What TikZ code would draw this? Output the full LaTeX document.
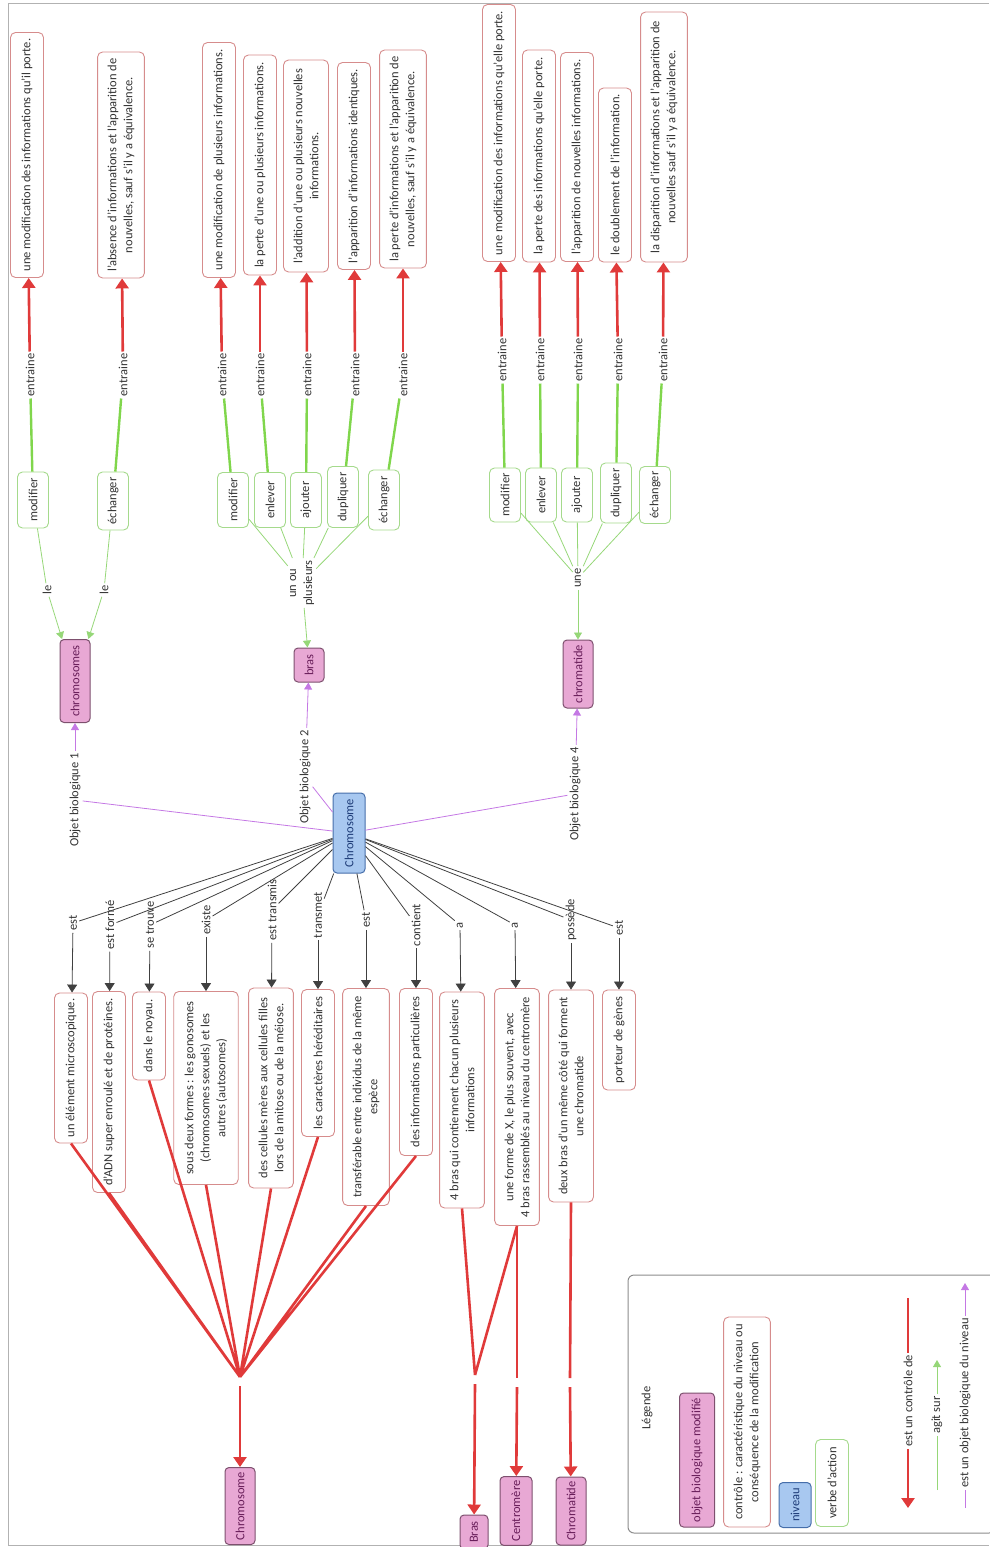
\documentclass[tikz,border=0pt]{standalone}
\usepackage{fontspec}
\setmainfont{Carlito}
\usepackage{tikz}
\usetikzlibrary{arrows.meta,calc}

\definecolor{ctlred}{RGB}{224,58,58}
\definecolor{ctlline}{RGB}{214,140,140}
\definecolor{verbline}{RGB}{165,218,140}
\definecolor{agitgreen}{RGB}{128,214,76}
\definecolor{agitlight}{RGB}{150,215,120}
\definecolor{objfill}{RGB}{232,168,212}
\definecolor{objline}{RGB}{125,80,110}
\definecolor{objtext}{RGB}{105,30,90}
\definecolor{nivfill}{RGB}{168,200,240}
\definecolor{nivline}{RGB}{70,110,170}
\definecolor{nivtext}{RGB}{30,60,120}
\definecolor{nivviolet}{RGB}{196,120,228}

\tikzset{
  txt/.style     = {rotate=90, align=center, font=\fontsize{12.5}{16}\selectfont,
                    text=black!80},
  ctlbox/.style  = {txt, draw=ctlline, fill=white, rounded corners=5pt,
                    line width=0.9pt, inner xsep=5pt, inner ysep=10pt,
                    minimum height=33pt},
  verbbox/.style = {txt, draw=verbline, fill=white, rounded corners=5pt,
                    line width=0.9pt, inner sep=5pt, minimum height=31pt},
  objbox/.style  = {txt, draw=objline, fill=objfill, text=objtext,
                    rounded corners=4pt, line width=1pt, inner sep=4pt,
                    minimum height=30pt},
  nivbox/.style  = {txt, draw=nivline, fill=nivfill, text=nivtext,
                    rounded corners=4pt, line width=1pt, inner sep=4pt,
                    minimum height=32pt},
  lien/.style    = {txt, inner sep=2pt},
  ar/.style      = {draw=ctlred, line width=2.6pt,
                    -{Triangle[length=10pt,width=13pt]}},
  arl/.style     = {draw=ctlred, line width=2.6pt},
  agit/.style    = {draw=agitgreen, line width=2.4pt},
  agitf/.style   = {draw=agitlight, line width=0.8pt},
  agitar/.style  = {agitf, -{Triangle[length=7pt,width=8pt]}},
  objl/.style    = {draw=nivviolet, line width=0.8pt},
  objar/.style   = {objl, -{Triangle[length=7pt,width=8pt]}},
  rel/.style     = {draw=black!75, line width=0.8pt},
  relar/.style   = {rel, -{Triangle[length=8pt,width=10pt]}},
}

\begin{document}
\begin{tikzpicture}[x=1pt, y=-1pt]
  \useasboundingbox (0,0) rectangle (989,1547);
  \draw[black!30, line width=0.8pt] (989,3) -- (8,3) -- (8,1545) -- (989,1545);

  % --- niveau ---
  \node[nivbox, minimum width=80pt] (chromo) at (349,833) {Chromosome};

  % --- objets biologiques ---
  \node[objbox, minimum width=83pt] (chromos) at (75,681) {chromosomes};
  \node[objbox, minimum width=34pt] (bras) at (309,665) {bras};
  \node[objbox, minimum width=68pt] (chromat) at (578,674) {chromatide};

  \node[lien] (ob1) at (75,800) {Objet biologique 1};
  \node[lien] (ob2) at (305,777) {Objet biologique 2};
  \node[lien] (ob4) at (575,794) {Objet biologique 4};
  \draw[objl] (chromo) -- (ob1);
  \draw[objl] (chromo) -- (ob2);
  \draw[objl] (chromo) -- (ob4);
  \draw[objar] (ob1) -- (chromos);
  \draw[objar] (ob2) -- (bras);
  \draw[objar] (ob4) -- (chromat);

  % --- objet 1 : chromosomes ---
  \node[verbbox, minimum width=56pt] (v11) at (33,500) {modifier};
  \node[verbbox, minimum width=58pt] (v12) at (113,501) {échanger};
  \node[lien] (le1) at (47,590) {le};
  \node[lien] (le2) at (104,590) {le};
  \node[lien] (e11) at (30,375) {entraine};
  \node[lien] (e12) at (123,375) {entraine};
  \node[ctlbox, minimum width=245pt] (c11) at (27,155)
       {une modification des informations qu'il porte.};
  \node[ctlbox, minimum width=226pt] (c12) at (121,165)
       {l'absence d'informations et l'apparition de\\nouvelles, sauf s'il y a équivalence.};
  \draw[agitf] (v11) -- (le1);
  \draw[agitf] (v12) -- (le2);
  \draw[agitar] (le1) -- (chromos);
  \draw[agitar] (le2) -- (chromos);
  \draw[agit] (v11) -- (e11);
  \draw[agit] (v12) -- (e12);
  \draw[ar] (e11) -- (c11);
  \draw[ar] (e12) -- (c12);

  % --- objet 2 : bras ---
  \node[verbbox, minimum width=55pt] (v21) at (233,500) {modifier};
  \node[verbbox, minimum width=55pt] (v22) at (270,500) {enlever};
  \node[verbbox, minimum width=55pt] (v23) at (306,500) {ajouter};
  \node[verbbox, minimum width=61pt] (v24) at (343,497) {dupliquer};
  \node[verbbox, minimum width=60pt] (v25) at (384,500) {échanger};
  \node[lien] (unou) at (302,583) {un ou\\plusieurs};
  \node[lien] (e21) at (222,375) {entraine};
  \node[lien] (e22) at (260,375) {entraine};
  \node[lien] (e23) at (307,375) {entraine};
  \node[lien] (e24) at (355,375) {entraine};
  \node[lien] (e25) at (403,375) {entraine};
  \node[ctlbox, minimum width=235pt] (c21) at (219,160)
       {une modification de plusieurs informations.};
  \node[ctlbox, minimum width=220pt] (c22) at (260,165)
       {la perte d'une ou plusieurs informations.};
  \node[ctlbox, minimum width=212pt] (c23) at (306,166)
       {l'addition d'une ou plusieurs nouvelles\\informations.};
  \node[ctlbox, minimum width=207pt] (c24) at (354,166)
       {l'apparition d'informations identiques.};
  \node[ctlbox, minimum width=218pt] (c25) at (403,159)
       {la perte d'informations et l'apparition de\\nouvelles, sauf s'il y a équivalence.};
  \draw[agitf] (v21) -- (unou);
  \draw[agitf] (v22) -- (unou);
  \draw[agitf] (v23) -- (unou);
  \draw[agitf] (v24) -- (unou);
  \draw[agitf] (v25) -- (unou);
  \draw[agitar] (unou) -- (bras);
  \draw[agit] (v21) -- (e21);
  \draw[agit] (v22) -- (e22);
  \draw[agit] (v23) -- (e23);
  \draw[agit] (v24) -- (e24);
  \draw[agit] (v25) -- (e25);
  \draw[ar] (e21) -- (c21);
  \draw[ar] (e22) -- (c22);
  \draw[ar] (e23) -- (c23);
  \draw[ar] (e24) -- (c24);
  \draw[ar] (e25) -- (c25);

  % --- objet 4 : chromatide ---
  \node[verbbox, minimum width=54pt] (v41) at (505,495) {modifier};
  \node[verbbox, minimum width=54pt] (v42) at (541,495) {enlever};
  \node[verbbox, minimum width=54pt] (v43) at (577,495) {ajouter};
  \node[verbbox, minimum width=60pt] (v44) at (616,493) {dupliquer};
  \node[verbbox, minimum width=56pt] (v45) at (655,495) {échanger};
  \node[lien] (une) at (578,578) {une};
  \node[lien] (e41) at (502,360) {entraine};
  \node[lien] (e42) at (540,360) {entraine};
  \node[lien] (e43) at (578,360) {entraine};
  \node[lien] (e44) at (618,360) {entraine};
  \node[lien] (e45) at (663,360) {entraine};
  \node[ctlbox, minimum width=257pt] (c41) at (499,133)
       {une modification des informations qu'elle porte.};
  \node[ctlbox, minimum width=212pt] (c42) at (539,156)
       {la perte des informations qu'elle porte.};
  \node[ctlbox, minimum width=209pt] (c43) at (577,157)
       {l'apparition de nouvelles informations.};
  \node[ctlbox, minimum width=174pt] (c44) at (615,175)
       {le doublement de l'information.};
  \node[ctlbox, minimum width=250pt] (c45) at (664,137)
       {la disparition d'informations et l'apparition de\\nouvelles sauf s'il y a équivalence.};
  \draw[agitf] (v41) -- (une);
  \draw[agitf] (v42) -- (une);
  \draw[agitf] (v43) -- (une);
  \draw[agitf] (v44) -- (une);
  \draw[agitf] (v45) -- (une);
  \draw[agitar] (une) -- (chromat);
  \draw[agit] (v41) -- (e41);
  \draw[agit] (v42) -- (e42);
  \draw[agit] (v43) -- (e43);
  \draw[agit] (v44) -- (e44);
  \draw[agit] (v45) -- (e45);
  \draw[ar] (e41) -- (c41);
  \draw[ar] (e42) -- (c42);
  \draw[ar] (e43) -- (c43);
  \draw[ar] (e44) -- (c44);
  \draw[ar] (e45) -- (c45);

  % --- caracteristiques du chromosome ---
  \node[lien] (l1) at (73,923) {est};
  \node[lien] (l2) at (110,925) {est formé};
  \node[lien] (l3) at (150,925) {se trouve};
  \node[lien] (l4) at (206,920) {existe};
  \node[lien] (l5) at (272,910) {est transmis};
  \node[lien] (l6) at (318,915) {transmet};
  \node[lien] (l7) at (366,920) {est};
  \node[lien] (l8) at (416,925) {contient};
  \node[lien] (l9) at (460,925) {a};
  \node[lien] (l10) at (515,925) {a};
  \node[lien] (l11) at (571,920) {possède};
  \node[lien] (l12) at (619,928) {est};

  \node[ctlbox, minimum width=150pt] (b1) at (71,1068) {un élément microscopique.};
  \node[ctlbox, minimum width=201pt] (b2) at (109,1092) {d'ADN super enroulé et de protéines.};
  \node[ctlbox, minimum width=88pt] (b3) at (149,1036) {dans le noyau.};
  \node[ctlbox, minimum width=193pt, inner ysep=11pt] (b4) at (206,1088)
       {sous deux formes : les gonosomes\\(chromosomes sexuels) et les\\autres (autosomes)};
  \node[ctlbox, minimum width=200pt] (b5) at (271,1088)
       {des cellules mères aux cellules filles\\lors de la mitose ou de la méiose.};
  \node[ctlbox, minimum width=147pt] (b6) at (318,1063) {les caractères héréditaires};
  \node[ctlbox, minimum width=217pt] (b7) at (366,1097)
       {transférable entre individus de la même\\espèce};
  \node[ctlbox, minimum width=167pt] (b8) at (416,1072) {des informations particulières};
  \node[ctlbox, minimum width=216pt] (b9) at (462,1100)
       {4 bras qui contiennent chacun plusieurs\\informations};
  \node[ctlbox, minimum width=237pt] (b10) at (517,1107)
       {une forme de X, le plus souvent, avec\\4 bras rassemblés au niveau du centromère};
  \node[ctlbox, minimum width=212pt] (b11) at (571,1096)
       {deux bras d'un même côté qui forment\\une chromatide};
  \node[ctlbox, minimum width=100pt] (b12) at (619,1040) {porteur de gènes};

  \draw[rel] (chromo) -- (l1);  \draw[relar] (l1) -- (b1);
  \draw[rel] (chromo) -- (l2);  \draw[relar] (l2) -- (b2);
  \draw[rel] (chromo) -- (l3);  \draw[relar] (l3) -- (b3);
  \draw[rel] (chromo) -- (l4);  \draw[relar] (l4) -- (b4);
  \draw[rel] (chromo) -- (l5);  \draw[relar] (l5) -- (b5);
  \draw[rel] (chromo) -- (l6);  \draw[relar] (l6) -- (b6);
  \draw[rel] (chromo) -- (l7);  \draw[relar] (l7) -- (b7);
  \draw[rel] (chromo) -- (l8);  \draw[relar] (l8) -- (b8);
  \draw[rel] (chromo) -- (l9);  \draw[relar] (l9) -- (b9);
  \draw[rel] (chromo) -- (l10); \draw[relar] (l10) -- (b10);
  \draw[rel] (chromo) -- (l11); \draw[relar] (l11) -- (b11);
  \draw[rel] (chromo) -- (l12); \draw[relar] (l12) -- (b12);

  % --- objets controles ---
  \node[objbox, minimum width=77pt] (nchromo) at (240,1506) {Chromosome};
  \node[objbox, minimum width=34pt, minimum height=28pt] (nbras) at (474,1532) {Bras};
  \node[objbox, minimum width=68pt, minimum height=32pt] (ncentro) at (516,1511) {Centromère};
  \node[objbox, minimum width=68pt] (nchromat) at (571,1511) {Chromatide};

  \coordinate (jc) at (240,1377);  \coordinate (jc2) at (240,1386);
  \coordinate (jb) at (475,1375);  \coordinate (jb2) at (475,1384);
  \coordinate (jm) at (517,1378);  \coordinate (jm2) at (517,1387);
  \coordinate (jt) at (570,1378);  \coordinate (jt2) at (570,1387);

  \draw[arl] (b1.west) -- (jc) (b2.west) -- (jc) (b3.west) -- (jc)
             (b4.west) -- (jc) (b5.west) -- (jc) (b6.west) -- (jc)
             (b7.west) -- (jc) (b8.west) -- (jc);
  \draw[arl] (b9.west) -- (jb) (b10.west) -- (jb);
  \draw[arl] (b10.west) -- (jm);
  \draw[arl] (b11.west) -- (jt);
  \draw[ar] (jc2) -- (nchromo);
  \draw[ar] (jb2) -- (nbras);
  \draw[ar] (jm2) -- (ncentro);
  \draw[ar] (jt2) -- (nchromat);

  % --- legende ---
  \draw[black!45, line width=1pt, rounded corners=6pt] (628,1275) rectangle (995,1533);
  \node[lien] (leg) at (647,1408) {Légende};
  \node[objbox, minimum width=134pt, minimum height=35pt] (lobj) at (697,1460)
       {objet biologique modifié};
  \node[ctlbox, minimum width=210pt] (lctl) at (747,1422)
       {contrôle : caractéristique du niveau ou\\conséquence de la modification};
  \node[nivbox, minimum width=45pt] (lniv) at (795,1505) {niveau};
  \node[verbbox, minimum width=87pt, minimum height=33pt] (lverb) at (832,1483) {verbe d'action};

  \node[lien] (lrel1) at (908,1401) {est un contrôle de};
  \node[lien] (lrel2) at (937,1415) {agit sur};
  \node[lien] (lrel3) at (965,1403) {est un objet biologique du niveau};
  \coordinate (lr1) at (908,1298); \coordinate (lr2) at (908,1508);
  \coordinate (la1) at (937,1490); \coordinate (la2) at (937,1360);
  \coordinate (lo1) at (965,1508); \coordinate (lo2) at (965,1283);
  \draw[arl] (lr1) -- (lrel1);
  \draw[ar] (lrel1) -- (lr2);
  \draw[agitf] (la1) -- (lrel2);
  \draw[agitar] (lrel2) -- (la2);
  \draw[objl] (lo1) -- (lrel3);
  \draw[objar] (lrel3) -- (lo2);
\end{tikzpicture}
\end{document}
